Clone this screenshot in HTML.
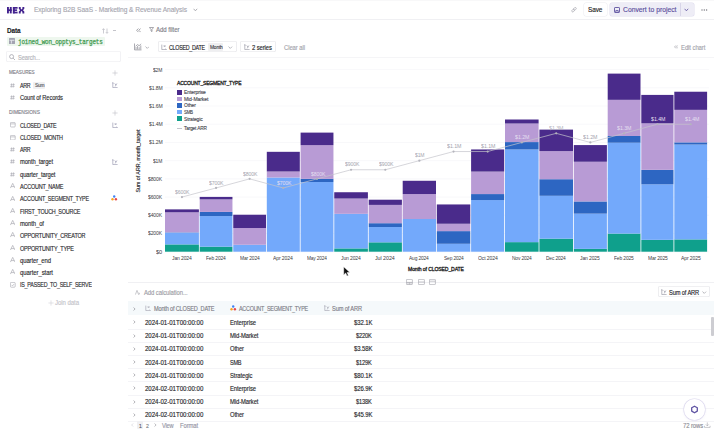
<!DOCTYPE html>
<html><head><meta charset="utf-8"><style>
html,body{margin:0;padding:0;width:714px;height:432px;overflow:hidden;background:#fff;position:relative;font-family:"Liberation Sans",sans-serif}
.t{position:absolute;white-space:nowrap;transform-origin:0 50%;-webkit-text-stroke:0.13px currentColor}
</style></head><body>
<div style="position:absolute;left:0px;top:0px;width:714px;height:1px;background:#f8f8f9"></div>
<div style="position:absolute;left:0px;top:19.2px;width:714px;height:0.8000000000000007px;background:#f0f0f3"></div>
<svg style="position:absolute;left:7px;top:6.5px;" width="18" height="7" viewBox="0 0 18 7"><g fill="#42228e"><rect x="0" y="0" width="1.9" height="6.4"/><rect x="2.8" y="0" width="1.9" height="6.4"/><rect x="0" y="2.3" width="4.7" height="1.7"/><rect x="5.9" y="0" width="1.9" height="6.4"/><rect x="5.9" y="0" width="4.7" height="1.7"/><rect x="5.9" y="2.35" width="4.2" height="1.6"/><rect x="5.9" y="4.7" width="4.7" height="1.7"/><path d="M11.8 0h1.9v1.4l0.8 1h0.1l0.8-1V0h1.9v1.8l-1.3 1.4 1.3 1.4v1.8h-1.9V5l-0.8-1h-0.1l-0.8 1v1.4h-1.9V4.6l1.3-1.4-1.3-1.4z"/></g></svg>
<svg style="position:absolute;left:192.5px;top:8px;" width="5" height="4" viewBox="0 0 5 4"><path d="M0.6 0.8L2.4 2.8 4.2 0.8" fill="none" stroke="#9a9aa2" stroke-width="0.8"/></svg>
<svg style="position:absolute;left:570.5px;top:7.2px;" width="6" height="6" viewBox="0 0 6 6"><g fill="none" stroke="#b0b0b8" stroke-width="0.8"><rect x="0.6" y="2.6" width="3" height="2" rx="1" transform="rotate(-45 2.1 3.6)"/><rect x="2.4" y="0.8" width="3" height="2" rx="1" transform="rotate(-45 3.9 1.8)"/></g></svg>
<div style="position:absolute;left:584.1px;top:3.3px;width:22.699999999999932px;height:12.899999999999999px;background:#fff;border-radius:2px;box-shadow:0 0 0 0.5px #ececf0"></div>
<div style="position:absolute;left:610.3px;top:3.3px;width:83.90000000000009px;height:12.899999999999999px;background:#eeedf6;border-radius:2px;box-shadow:0 0 0 0.5px #e0deee"></div>
<div style="position:absolute;left:680.1px;top:3.3px;width:0.5px;height:12.899999999999999px;background:#d8d5e8"></div>
<svg style="position:absolute;left:613.8px;top:7.2px;" width="6.5" height="6.5" viewBox="0 0 6.5 6.5"><g fill="none" stroke="#5f52a0" stroke-width="0.9"><rect x="0.5" y="0.5" width="5" height="5" rx="0.6"/><path d="M1.8 5.5V3.6h2.4v1.9"/></g></svg>
<svg style="position:absolute;left:684.3px;top:8.2px;" width="5" height="4" viewBox="0 0 5 4"><path d="M0.6 0.8L2.4 2.8 4.2 0.8" fill="none" stroke="#5c4f9e" stroke-width="0.8"/></svg>
<svg style="position:absolute;left:701.2px;top:9px;" width="7" height="2" viewBox="0 0 7 2"><g fill="#77777f"><circle cx="1" cy="1" r="0.7"/><circle cx="3.3" cy="1" r="0.7"/><circle cx="5.6" cy="1" r="0.7"/></g></svg>
<svg style="position:absolute;left:101.5px;top:27.5px;" width="7" height="6" viewBox="0 0 7 6"><g fill="none" stroke="#b8b8c0" stroke-width="0.7"><path d="M1.5 5.5V0.7M0.3 1.9l1.2-1.2 1.2 1.2M5 0.5v4.8M3.8 4.1l1.2 1.2 1.2-1.2"/></g></svg>
<div style="position:absolute;left:112.8px;top:30.4px;width:3.0px;height:0.5px;background:#c4c4ca"></div>
<div style="position:absolute;left:7.1px;top:36.8px;width:98.2px;height:9.0px;background:#eef7ee;border-radius:1px"></div>
<svg style="position:absolute;left:9px;top:38.3px;" width="6" height="6.2" viewBox="0 0 6 6.2"><rect x="0" y="0" width="6" height="6.2" rx="0.6" fill="#a4a4b2"/><path d="M0.6 2.3h4.8M2.4 2.3v3.3" stroke="#eef0f4" stroke-width="0.8"/></svg>
<div style="position:absolute;left:6.4px;top:51.3px;width:114.19999999999999px;height:11.0px;background:#fff;border-radius:2px;box-shadow:inset 0 0 0 0.6px #eaeaee"></div>
<svg style="position:absolute;left:9px;top:53.8px;" width="6.5" height="6.5" viewBox="0 0 6.5 6.5"><g fill="none" stroke="#9a9aa2" stroke-width="0.7"><circle cx="2.6" cy="2.6" r="2"/><path d="M4.1 4.1l1.9 1.9"/></g></svg>
<svg style="position:absolute;left:111.6px;top:69.5px;" width="6" height="6" viewBox="0 0 6 6"><path d="M3 0.4v5.2M0.4 3h5.2" stroke="#c0c0c6" stroke-width="0.6"/></svg>
<svg style="position:absolute;left:10px;top:82.7px;" width="5" height="5" viewBox="0 0 5 5"><path d="M1.7 0.3l-0.5 4.4M3.6 0.3l-0.5 4.4M0.4 1.6h4.4M0.2 3.4h4.4" fill="none" stroke="#a4a4ac" stroke-width="0.55"/></svg>
<div style="position:absolute;left:32.9px;top:82px;width:12.399999999999999px;height:6.5px;background:#f0f0f2;border-radius:1px"></div>
<svg style="position:absolute;left:111.8px;top:81.8px;" width="6" height="6.2" viewBox="0 0 6 6.2"><g fill="none" stroke="#8c8ca6" stroke-width="0.6"><path d="M0.8 0.6v5h4.8"/><path d="M0 1.5l0.8-0.9 0.8 0.9"/><path d="M2.8 1.5l1.2 1.6M4.9 1.5L3.2 4.4"/></g></svg>
<svg style="position:absolute;left:10px;top:94.9px;" width="5" height="5" viewBox="0 0 5 5"><path d="M1.7 0.3l-0.5 4.4M3.6 0.3l-0.5 4.4M0.4 1.6h4.4M0.2 3.4h4.4" fill="none" stroke="#a4a4ac" stroke-width="0.55"/></svg>
<svg style="position:absolute;left:111.6px;top:109.5px;" width="6" height="6" viewBox="0 0 6 6"><path d="M3 0.4v5.2M0.4 3h5.2" stroke="#c0c0c6" stroke-width="0.6"/></svg>
<svg style="position:absolute;left:10px;top:122.30000000000001px;" width="5.6" height="5.4" viewBox="0 0 5.6 5.4"><g fill="none" stroke="#a4a4ac" stroke-width="0.6"><rect x="0.4" y="0.4" width="4.8" height="4.6" rx="0.8"/><path d="M0.4 1.9h4.8"/></g></svg>
<svg style="position:absolute;left:10px;top:134.60000000000002px;" width="5.6" height="5.4" viewBox="0 0 5.6 5.4"><g fill="none" stroke="#a4a4ac" stroke-width="0.6"><rect x="0.4" y="0.4" width="4.8" height="4.6" rx="0.8"/><path d="M0.4 1.9h4.8"/></g></svg>
<svg style="position:absolute;left:10px;top:147.0px;" width="5" height="5" viewBox="0 0 5 5"><path d="M1.7 0.3l-0.5 4.4M3.6 0.3l-0.5 4.4M0.4 1.6h4.4M0.2 3.4h4.4" fill="none" stroke="#a4a4ac" stroke-width="0.55"/></svg>
<svg style="position:absolute;left:10px;top:159.3px;" width="5" height="5" viewBox="0 0 5 5"><path d="M1.7 0.3l-0.5 4.4M3.6 0.3l-0.5 4.4M0.4 1.6h4.4M0.2 3.4h4.4" fill="none" stroke="#a4a4ac" stroke-width="0.55"/></svg>
<svg style="position:absolute;left:10px;top:171.60000000000002px;" width="5" height="5" viewBox="0 0 5 5"><path d="M1.7 0.3l-0.5 4.4M3.6 0.3l-0.5 4.4M0.4 1.6h4.4M0.2 3.4h4.4" fill="none" stroke="#a4a4ac" stroke-width="0.55"/></svg>
<svg style="position:absolute;left:10px;top:183.20000000000002px;" width="5.4" height="5.6" viewBox="0 0 5.4 5.6"><path d="M0.4 5.1L2.7 0.4 5 5.1M1.2 3.6h3" fill="none" stroke="#9c9ca6" stroke-width="0.6"/></svg>
<svg style="position:absolute;left:10px;top:195.50000000000003px;" width="5.4" height="5.6" viewBox="0 0 5.4 5.6"><path d="M0.4 5.1L2.7 0.4 5 5.1M1.2 3.6h3" fill="none" stroke="#9c9ca6" stroke-width="0.6"/></svg>
<svg style="position:absolute;left:10px;top:207.8px;" width="5.4" height="5.6" viewBox="0 0 5.4 5.6"><path d="M0.4 5.1L2.7 0.4 5 5.1M1.2 3.6h3" fill="none" stroke="#9c9ca6" stroke-width="0.6"/></svg>
<svg style="position:absolute;left:10px;top:220.10000000000002px;" width="5.4" height="5.6" viewBox="0 0 5.4 5.6"><path d="M0.4 5.1L2.7 0.4 5 5.1M1.2 3.6h3" fill="none" stroke="#9c9ca6" stroke-width="0.6"/></svg>
<svg style="position:absolute;left:10px;top:232.40000000000003px;" width="5.4" height="5.6" viewBox="0 0 5.4 5.6"><path d="M0.4 5.1L2.7 0.4 5 5.1M1.2 3.6h3" fill="none" stroke="#9c9ca6" stroke-width="0.6"/></svg>
<svg style="position:absolute;left:10px;top:244.70000000000002px;" width="5.4" height="5.6" viewBox="0 0 5.4 5.6"><path d="M0.4 5.1L2.7 0.4 5 5.1M1.2 3.6h3" fill="none" stroke="#9c9ca6" stroke-width="0.6"/></svg>
<svg style="position:absolute;left:10px;top:257.00000000000006px;" width="5.4" height="5.6" viewBox="0 0 5.4 5.6"><path d="M0.4 5.1L2.7 0.4 5 5.1M1.2 3.6h3" fill="none" stroke="#9c9ca6" stroke-width="0.6"/></svg>
<svg style="position:absolute;left:10px;top:269.3px;" width="5.4" height="5.6" viewBox="0 0 5.4 5.6"><path d="M0.4 5.1L2.7 0.4 5 5.1M1.2 3.6h3" fill="none" stroke="#9c9ca6" stroke-width="0.6"/></svg>
<svg style="position:absolute;left:10px;top:282.1px;" width="5.6" height="5.6" viewBox="0 0 5.6 5.6"><g fill="none" stroke="#a4a4ac" stroke-width="0.6"><rect x="0.4" y="0.4" width="4.8" height="4.8" rx="0.8"/><path d="M1.5 2.9l1 1 1.8-2"/></g></svg>
<svg style="position:absolute;left:111.8px;top:121.6px;" width="6" height="6.2" viewBox="0 0 6 6.2"><g fill="none" stroke="#8c8ca6" stroke-width="0.6"><path d="M0.8 0.6v5h4.8"/><path d="M2.8 1.2l1.6 1.8M4.4 1.2L2.8 3"/><path d="M4.5 4.8l0.9 0.8"/></g></svg>
<svg style="position:absolute;left:111.8px;top:158.6px;" width="6" height="6.2" viewBox="0 0 6 6.2"><g fill="none" stroke="#8c8ca6" stroke-width="0.6"><path d="M0.8 0.6v5h4.8"/><path d="M0 1.5l0.8-0.9 0.8 0.9"/><path d="M2.8 1.5l1.2 1.6M4.9 1.5L3.2 4.4"/></g></svg>
<svg style="position:absolute;left:111px;top:194.6px;" width="6.5" height="6" viewBox="0 0 6.5 6"><circle cx="3.2" cy="1.5" r="1.2" fill="#3b82f6"/><circle cx="1.5" cy="4.3" r="1.2" fill="#f5a524"/><circle cx="4.9" cy="4.3" r="1.2" fill="#e5484d"/></svg>
<svg style="position:absolute;left:47.8px;top:299.7px;" width="6" height="6" viewBox="0 0 6 6"><path d="M3 0.4v5.2M0.4 3h5.2" stroke="#d0d0d6" stroke-width="0.6"/></svg>
<svg style="position:absolute;left:135.9px;top:27.5px;" width="5" height="5" viewBox="0 0 5 5"><path d="M2.4 0.5L0.6 2.3 2.4 4.1M4.6 0.5L2.8 2.3 4.6 4.1" fill="none" stroke="#85858e" stroke-width="0.75"/></svg>
<svg style="position:absolute;left:149.2px;top:27.4px;" width="5" height="5" viewBox="0 0 5 5"><path d="M0.4 0.5h4.2L3 2.4v2.2L2 4V2.4z" fill="none" stroke="#85858e" stroke-width="0.7"/></svg>
<svg style="position:absolute;left:134.4px;top:43.4px;" width="8" height="7.4" viewBox="0 0 8 7.4"><g fill="none" stroke="#8e8e98" stroke-width="0.75"><path d="M0.5 0.5v6.4h7"/><path d="M2 6.4V4M3.6 6.4V3M5.2 6.4V4.2M6.8 6.4V2.4"/><path d="M1.6 3.2l2-1.6 1.6 1.2 1.8-2"/></g></svg>
<svg style="position:absolute;left:144.9px;top:45.7px;" width="4.6" height="3" viewBox="0 0 4.6 3"><path d="M0.5 0.6l1.8 1.8 1.8-1.8" fill="none" stroke="#8a8a92" stroke-width="0.6"/></svg>
<div style="position:absolute;left:157.6px;top:41.3px;width:79.30000000000001px;height:11.200000000000003px;background:#fff;border-radius:2px;box-shadow:inset 0 0 0 0.6px #e2e2e6"></div>
<svg style="position:absolute;left:160.8px;top:43.9px;" width="6" height="6.2" viewBox="0 0 6 6.2"><g fill="none" stroke="#8a8a98" stroke-width="0.6"><path d="M0.8 0.6v5h4.8"/><path d="M2.8 1.2l1.6 1.8M4.4 1.2L2.8 3"/><path d="M4.5 4.8l0.9 0.8"/></g></svg>
<div style="position:absolute;left:208.4px;top:43.4px;width:15.099999999999994px;height:7.600000000000001px;background:#efeff1;border-radius:1px"></div>
<svg style="position:absolute;left:228.2px;top:45.7px;" width="4.6" height="3" viewBox="0 0 4.6 3"><path d="M0.5 0.6l1.8 1.8 1.8-1.8" fill="none" stroke="#8a8a92" stroke-width="0.6"/></svg>
<div style="position:absolute;left:240.3px;top:41.3px;width:36.19999999999999px;height:11.200000000000003px;background:#fff;border-radius:2px;box-shadow:inset 0 0 0 0.6px #e2e2e6"></div>
<svg style="position:absolute;left:244px;top:43.9px;" width="6" height="6.2" viewBox="0 0 6 6.2"><g fill="none" stroke="#8a8a98" stroke-width="0.6"><path d="M0.8 0.6v5h4.8"/><path d="M0 1.5l0.8-0.9 0.8 0.9"/><path d="M2.8 1.5l1.2 1.6M4.9 1.5L3.2 4.4"/></g></svg>
<svg style="position:absolute;left:673.8px;top:45.2px;" width="4.5" height="4" viewBox="0 0 4.5 4"><path d="M2 0.4L0.5 1.9 2 3.4M3.9 0.4L2.4 1.9 3.9 3.4" fill="none" stroke="#9c9ca4" stroke-width="0.65"/></svg>
<div style="position:absolute;left:128px;top:56.8px;width:586px;height:0.5px;background:#f5f5f7"></div>
<svg style="position:absolute;left:0px;top:0px;" width="714" height="432" viewBox="0 0 714 432"><line x1="165" y1="251.70" x2="709" y2="251.70" stroke="#f3f3f6" stroke-width="0.6"/><line x1="165" y1="233.49" x2="709" y2="233.49" stroke="#f3f3f6" stroke-width="0.6"/><line x1="165" y1="215.28" x2="709" y2="215.28" stroke="#f3f3f6" stroke-width="0.6"/><line x1="165" y1="197.07" x2="709" y2="197.07" stroke="#f3f3f6" stroke-width="0.6"/><line x1="165" y1="178.86" x2="709" y2="178.86" stroke="#f3f3f6" stroke-width="0.6"/><line x1="165" y1="160.65" x2="709" y2="160.65" stroke="#f3f3f6" stroke-width="0.6"/><line x1="165" y1="142.44" x2="709" y2="142.44" stroke="#f3f3f6" stroke-width="0.6"/><line x1="165" y1="124.23" x2="709" y2="124.23" stroke="#f3f3f6" stroke-width="0.6"/><line x1="165" y1="106.02" x2="709" y2="106.02" stroke="#f3f3f6" stroke-width="0.6"/><line x1="165" y1="87.81" x2="709" y2="87.81" stroke="#f3f3f6" stroke-width="0.6"/><line x1="165" y1="69.60" x2="709" y2="69.60" stroke="#f3f3f6" stroke-width="0.6"/><rect x="165.00" y="244.41" width="33.90" height="7.29" fill="#0fa08c"/><rect x="165.00" y="232.66" width="33.90" height="11.75" fill="#73a9fb"/><rect x="165.00" y="232.34" width="33.90" height="0.33" fill="#2d66c2"/><rect x="165.00" y="212.30" width="33.90" height="20.03" fill="#b89bd5"/><rect x="165.00" y="209.38" width="33.90" height="2.92" fill="#4a2b8b"/><rect x="199.70" y="246.69" width="32.75" height="5.01" fill="#0fa08c"/><rect x="199.70" y="216.10" width="32.75" height="30.59" fill="#73a9fb"/><rect x="199.70" y="211.92" width="32.75" height="4.18" fill="#2d66c2"/><rect x="199.70" y="199.36" width="32.75" height="12.56" fill="#b89bd5"/><rect x="199.70" y="196.91" width="32.75" height="2.45" fill="#4a2b8b"/><rect x="233.25" y="244.78" width="32.75" height="6.92" fill="#73a9fb"/><rect x="233.25" y="228.03" width="32.75" height="16.75" fill="#b89bd5"/><rect x="233.25" y="214.73" width="32.75" height="13.29" fill="#4a2b8b"/><rect x="266.80" y="177.49" width="33.00" height="74.21" fill="#73a9fb"/><rect x="266.80" y="171.48" width="33.00" height="6.01" fill="#b89bd5"/><rect x="266.80" y="151.82" width="33.00" height="19.67" fill="#4a2b8b"/><rect x="300.60" y="182.05" width="32.85" height="69.65" fill="#73a9fb"/><rect x="300.60" y="178.86" width="32.85" height="3.19" fill="#2d66c2"/><rect x="300.60" y="145.17" width="32.85" height="33.69" fill="#b89bd5"/><rect x="300.60" y="132.61" width="32.85" height="12.56" fill="#4a2b8b"/><rect x="334.25" y="248.42" width="33.65" height="3.28" fill="#0fa08c"/><rect x="334.25" y="213.82" width="33.65" height="34.60" fill="#73a9fb"/><rect x="334.25" y="198.53" width="33.65" height="15.30" fill="#b89bd5"/><rect x="334.25" y="192.24" width="33.65" height="6.28" fill="#4a2b8b"/><rect x="368.70" y="242.32" width="33.20" height="9.38" fill="#0fa08c"/><rect x="368.70" y="227.03" width="33.20" height="15.30" fill="#73a9fb"/><rect x="368.70" y="223.20" width="33.20" height="3.82" fill="#2d66c2"/><rect x="368.70" y="204.90" width="33.20" height="18.30" fill="#b89bd5"/><rect x="368.70" y="199.71" width="33.20" height="5.19" fill="#4a2b8b"/><rect x="402.70" y="219.01" width="33.30" height="32.69" fill="#73a9fb"/><rect x="402.70" y="194.07" width="33.30" height="24.95" fill="#b89bd5"/><rect x="402.70" y="180.77" width="33.30" height="13.29" fill="#4a2b8b"/><rect x="436.80" y="243.78" width="33.50" height="7.92" fill="#73a9fb"/><rect x="436.80" y="231.12" width="33.50" height="12.66" fill="#2d66c2"/><rect x="436.80" y="223.75" width="33.50" height="7.38" fill="#b89bd5"/><rect x="436.80" y="204.45" width="33.50" height="19.30" fill="#4a2b8b"/><rect x="471.10" y="200.07" width="33.10" height="51.63" fill="#73a9fb"/><rect x="471.10" y="194.07" width="33.10" height="6.01" fill="#2d66c2"/><rect x="471.10" y="171.58" width="33.10" height="22.49" fill="#b89bd5"/><rect x="471.10" y="149.45" width="33.10" height="22.13" fill="#4a2b8b"/><rect x="505.00" y="242.14" width="33.60" height="9.56" fill="#0fa08c"/><rect x="505.00" y="149.45" width="33.60" height="92.69" fill="#73a9fb"/><rect x="505.00" y="142.08" width="33.60" height="7.38" fill="#2d66c2"/><rect x="505.00" y="123.50" width="33.60" height="18.57" fill="#b89bd5"/><rect x="505.00" y="119.50" width="33.60" height="4.01" fill="#4a2b8b"/><rect x="539.40" y="238.68" width="33.60" height="13.02" fill="#0fa08c"/><rect x="539.40" y="195.80" width="33.60" height="42.88" fill="#73a9fb"/><rect x="539.40" y="179.22" width="33.60" height="16.57" fill="#2d66c2"/><rect x="539.40" y="151.09" width="33.60" height="28.13" fill="#b89bd5"/><rect x="539.40" y="129.60" width="33.60" height="21.49" fill="#4a2b8b"/><rect x="573.80" y="248.88" width="33.10" height="2.82" fill="#0fa08c"/><rect x="573.80" y="213.64" width="33.10" height="35.24" fill="#73a9fb"/><rect x="573.80" y="201.44" width="33.10" height="12.20" fill="#2d66c2"/><rect x="573.80" y="161.74" width="33.10" height="39.70" fill="#b89bd5"/><rect x="573.80" y="145.08" width="33.10" height="16.66" fill="#4a2b8b"/><rect x="607.70" y="233.58" width="32.80" height="18.12" fill="#0fa08c"/><rect x="607.70" y="142.71" width="32.80" height="90.87" fill="#73a9fb"/><rect x="607.70" y="135.98" width="32.80" height="6.74" fill="#2d66c2"/><rect x="607.70" y="99.83" width="32.80" height="36.15" fill="#b89bd5"/><rect x="607.70" y="73.61" width="32.80" height="26.22" fill="#4a2b8b"/><rect x="641.30" y="239.86" width="32.20" height="11.84" fill="#0fa08c"/><rect x="641.30" y="184.32" width="32.20" height="55.54" fill="#73a9fb"/><rect x="641.30" y="169.85" width="32.20" height="14.48" fill="#2d66c2"/><rect x="641.30" y="123.32" width="32.20" height="46.53" fill="#b89bd5"/><rect x="641.30" y="94.91" width="32.20" height="28.41" fill="#4a2b8b"/><rect x="674.30" y="239.41" width="32.80" height="12.29" fill="#0fa08c"/><rect x="674.30" y="144.53" width="32.80" height="94.87" fill="#73a9fb"/><rect x="674.30" y="142.35" width="32.80" height="2.19" fill="#2d66c2"/><rect x="674.30" y="109.84" width="32.80" height="32.50" fill="#b89bd5"/><rect x="674.30" y="91.73" width="32.80" height="18.12" fill="#4a2b8b"/><polyline points="181.95,197.07 216.07,187.96 249.62,178.86 283.30,187.96 317.02,178.86 351.08,169.75 385.30,169.75 419.35,160.65 453.55,151.54 487.65,151.54 521.80,142.44 556.20,133.33 590.35,142.44 624.10,133.33 657.40,124.23 690.70,124.23" fill="none" stroke="#c4c4cc" stroke-width="0.7"/><circle cx="181.95" cy="197.07" r="1.1" fill="#b4b4bc"/><circle cx="216.07" cy="187.96" r="1.1" fill="#b4b4bc"/><circle cx="249.62" cy="178.86" r="1.1" fill="#b4b4bc"/><circle cx="283.30" cy="187.96" r="1.1" fill="#b4b4bc"/><circle cx="317.02" cy="178.86" r="1.1" fill="#b4b4bc"/><circle cx="351.08" cy="169.75" r="1.1" fill="#b4b4bc"/><circle cx="385.30" cy="169.75" r="1.1" fill="#b4b4bc"/><circle cx="419.35" cy="160.65" r="1.1" fill="#b4b4bc"/><circle cx="453.55" cy="151.54" r="1.1" fill="#b4b4bc"/><circle cx="487.65" cy="151.54" r="1.1" fill="#b4b4bc"/><circle cx="521.80" cy="142.44" r="1.1" fill="#b4b4bc"/><circle cx="556.20" cy="133.33" r="1.1" fill="#b4b4bc"/><circle cx="590.35" cy="142.44" r="1.1" fill="#b4b4bc"/><circle cx="624.10" cy="133.33" r="1.1" fill="#b4b4bc"/><circle cx="657.40" cy="124.23" r="1.1" fill="#b4b4bc"/><circle cx="690.70" cy="124.23" r="1.1" fill="#b4b4bc"/></svg>
<div style="position:absolute;left:106.3px;top:157.7px;width:63px;height:6px;transform:rotate(-90deg);transform-origin:center"><div style="font:400 5.45px/6px 'Liberation Sans',sans-serif;color:#26262c;-webkit-text-stroke:0.15px currentColor;white-space:nowrap;transform-origin:0 50%;transform:scaleX(0.9695)">Sum of ARR, month_target</div></div>
<div style="position:absolute;left:177.2px;top:90.10000000000001px;width:5.0px;height:4.5px;background:#4a2b8b"></div>
<div style="position:absolute;left:177.2px;top:96.60000000000001px;width:5.0px;height:4.5px;background:#b89bd5"></div>
<div style="position:absolute;left:177.2px;top:103.0px;width:5.0px;height:4.5px;background:#2d66c2"></div>
<div style="position:absolute;left:177.2px;top:109.5px;width:5.0px;height:4.5px;background:#73a9fb"></div>
<div style="position:absolute;left:177.2px;top:116.45px;width:5.0px;height:4.5px;background:#0fa08c"></div>
<div style="position:absolute;left:177.2px;top:127.8px;width:5.300000000000011px;height:0.5000000000000142px;background:#c4c4cc"></div>
<div style="position:absolute;left:128px;top:282.3px;width:586px;height:0.5px;background:#f0f0f3"></div>
<svg style="position:absolute;left:405.8px;top:279.3px;" width="7" height="6" viewBox="0 0 7 6"><g fill="none" stroke="#a0a0a8" stroke-width="0.6"><rect x="0.4" y="0.4" width="6" height="5.2" rx="0.6"/><path d="M0.4 3.4h6"/><path d="M2 3.4v2.2M3.5 3.4v2.2M5 3.4v2.2"/></g></svg>
<svg style="position:absolute;left:417.6px;top:279.3px;" width="7" height="6" viewBox="0 0 7 6"><g fill="none" stroke="#a0a0a8" stroke-width="0.6"><rect x="0.4" y="0.4" width="6" height="5.2" rx="0.6"/><path d="M0.4 3h6"/></g></svg>
<svg style="position:absolute;left:428.8px;top:279.3px;" width="7" height="6" viewBox="0 0 7 6"><g fill="none" stroke="#a0a0a8" stroke-width="0.6"><rect x="0.4" y="0.4" width="6" height="5.2" rx="0.6"/><path d="M0.4 2.2h6"/></g></svg>
<svg style="position:absolute;left:134.8px;top:290px;" width="5" height="5" viewBox="0 0 5 5"><path d="M0.4 4.6l1.6-4.2 1.6 4.2M3.6 3l1.2 1.2M4.8 3L3.6 4.2" fill="none" stroke="#9c9ca4" stroke-width="0.55"/></svg>
<div style="position:absolute;left:658.3px;top:286.4px;width:51.90000000000009px;height:11.0px;background:#fff;border-radius:2px;box-shadow:inset 0 0 0 0.6px #e2e2e6"></div>
<svg style="position:absolute;left:661px;top:288.8px;" width="6" height="6.2" viewBox="0 0 6 6.2"><g fill="none" stroke="#8a8a98" stroke-width="0.6"><path d="M0.8 0.6v5h4.8"/><path d="M0 1.5l0.8-0.9 0.8 0.9"/><path d="M2.8 1.5l1.2 1.6M4.9 1.5L3.2 4.4"/></g></svg>
<svg style="position:absolute;left:702.2px;top:290.7px;" width="4.6" height="3" viewBox="0 0 4.6 3"><path d="M0.5 0.6l1.8 1.8 1.8-1.8" fill="none" stroke="#8a8a92" stroke-width="0.6"/></svg>
<div style="position:absolute;left:128px;top:301.4px;width:586px;height:13.800000000000011px;background:#f5f9fb"></div>
<svg style="position:absolute;left:133.0px;top:306.5px;" width="3" height="4" viewBox="0 0 3 4"><path d="M0.6 0.5l1.5 1.5-1.5 1.5" fill="none" stroke="#7c7c84" stroke-width="0.6"/></svg>
<svg style="position:absolute;left:145px;top:305.2px;" width="6" height="6.2" viewBox="0 0 6 6.2"><g fill="none" stroke="#9a9aa8" stroke-width="0.6"><path d="M0.8 0.6v5h4.8"/><path d="M2.8 1.2l1.6 1.8M4.4 1.2L2.8 3"/><path d="M4.5 4.8l0.9 0.8"/></g></svg>
<svg style="position:absolute;left:230.3px;top:305.4px;" width="6.5" height="6" viewBox="0 0 6.5 6"><circle cx="3.2" cy="1.5" r="1.2" fill="#3b82f6"/><circle cx="1.5" cy="4.3" r="1.2" fill="#f5a524"/><circle cx="4.9" cy="4.3" r="1.2" fill="#e5484d"/></svg>
<svg style="position:absolute;left:324px;top:305.2px;" width="6" height="6.2" viewBox="0 0 6 6.2"><g fill="none" stroke="#9a9aa8" stroke-width="0.6"><path d="M0.8 0.6v5h4.8"/><path d="M0 1.5l0.8-0.9 0.8 0.9"/><path d="M2.8 1.5l1.2 1.6M4.9 1.5L3.2 4.4"/></g></svg>
<div style="position:absolute;left:128px;top:328.6px;width:586px;height:0.5999999999999659px;background:#f4f4f7"></div>
<svg style="position:absolute;left:133.0px;top:320.3px;" width="3" height="4" viewBox="0 0 3 4"><path d="M0.6 0.5l1.5 1.5-1.5 1.5" fill="none" stroke="#7c7c84" stroke-width="0.6"/></svg>
<div style="position:absolute;left:128px;top:341.8px;width:586px;height:0.5999999999999659px;background:#f4f4f7"></div>
<svg style="position:absolute;left:133.0px;top:333.5px;" width="3" height="4" viewBox="0 0 3 4"><path d="M0.6 0.5l1.5 1.5-1.5 1.5" fill="none" stroke="#7c7c84" stroke-width="0.6"/></svg>
<div style="position:absolute;left:128px;top:355.0px;width:586px;height:0.5999999999999659px;background:#f4f4f7"></div>
<svg style="position:absolute;left:133.0px;top:346.7px;" width="3" height="4" viewBox="0 0 3 4"><path d="M0.6 0.5l1.5 1.5-1.5 1.5" fill="none" stroke="#7c7c84" stroke-width="0.6"/></svg>
<div style="position:absolute;left:128px;top:368.2px;width:586px;height:0.5999999999999659px;background:#f4f4f7"></div>
<svg style="position:absolute;left:133.0px;top:359.9px;" width="3" height="4" viewBox="0 0 3 4"><path d="M0.6 0.5l1.5 1.5-1.5 1.5" fill="none" stroke="#7c7c84" stroke-width="0.6"/></svg>
<div style="position:absolute;left:128px;top:381.40000000000003px;width:586px;height:0.5999999999999659px;background:#f4f4f7"></div>
<svg style="position:absolute;left:133.0px;top:373.1px;" width="3" height="4" viewBox="0 0 3 4"><path d="M0.6 0.5l1.5 1.5-1.5 1.5" fill="none" stroke="#7c7c84" stroke-width="0.6"/></svg>
<div style="position:absolute;left:128px;top:394.6px;width:586px;height:0.5999999999999659px;background:#f4f4f7"></div>
<svg style="position:absolute;left:133.0px;top:386.3px;" width="3" height="4" viewBox="0 0 3 4"><path d="M0.6 0.5l1.5 1.5-1.5 1.5" fill="none" stroke="#7c7c84" stroke-width="0.6"/></svg>
<div style="position:absolute;left:128px;top:407.8px;width:586px;height:0.5999999999999659px;background:#f4f4f7"></div>
<svg style="position:absolute;left:133.0px;top:399.5px;" width="3" height="4" viewBox="0 0 3 4"><path d="M0.6 0.5l1.5 1.5-1.5 1.5" fill="none" stroke="#7c7c84" stroke-width="0.6"/></svg>
<div style="position:absolute;left:128px;top:421.0px;width:586px;height:0.5999999999999659px;background:#f4f4f7"></div>
<svg style="position:absolute;left:133.0px;top:412.7px;" width="3" height="4" viewBox="0 0 3 4"><path d="M0.6 0.5l1.5 1.5-1.5 1.5" fill="none" stroke="#7c7c84" stroke-width="0.6"/></svg>
<div style="position:absolute;left:711.3px;top:316.8px;width:2.7000000000000455px;height:19.19999999999999px;background:#cdcdd2;border-radius:1px"></div>
<svg style="position:absolute;left:131.3px;top:423.1px;" width="3" height="4" viewBox="0 0 3 4"><path d="M2.1 0.5L0.6 2l1.5 1.5" fill="none" stroke="#c8c8d0" stroke-width="0.6"/></svg>
<div style="position:absolute;left:136.9px;top:421px;width:5.900000000000006px;height:8.199999999999989px;background:#efeff2;border-radius:1px"></div>
<svg style="position:absolute;left:153.6px;top:423.1px;" width="3" height="4" viewBox="0 0 3 4"><path d="M0.6 0.5l1.5 1.5-1.5 1.5" fill="none" stroke="#8c8c94" stroke-width="0.6"/></svg>
<div style="position:absolute;left:684.3px;top:399.3px;width:20.4px;height:20.4px;border-radius:50%;background:#fff;box-shadow:0 0 0 0.6px #dcd8ee, 0 1px 3px rgba(80,60,160,0.08)"></div>
<svg style="position:absolute;left:690px;top:405px;" width="9" height="9" viewBox="0 0 9 9"><path d="M4.5 1.2l2.8 1.6v3.3L4.5 7.8 1.7 6.1V2.8z" fill="none" stroke="#5e52a2" stroke-width="1.3" stroke-linejoin="round"/></svg>
<svg style="position:absolute;left:704px;top:422px;" width="7" height="6" viewBox="0 0 7 6"><path d="M3.3 0.4v3.4M1.8 2.4l1.5 1.5 1.5-1.5M0.5 3.8v1.6h5.6V3.8" fill="none" stroke="#9c9ca4" stroke-width="0.55"/></svg>
<svg style="position:absolute;left:343px;top:266px;" width="8" height="11" viewBox="0 0 8 11"><path d="M0.7 0.7v8.2l2-1.9 1.3 3 1.4-0.6-1.3-2.9h2.8z" fill="#111" stroke="#fff" stroke-width="0.5"/></svg>
<div class="t" style="left:33.80px;top:7.35px;font-family:'Liberation Sans', sans-serif;font-size:6.83px;line-height:6.83px;font-weight:400;color:#a7a7b0;transform:scaleX(0.9666);letter-spacing:-0.047px;">Exploring B2B SaaS - Marketing &amp; Revenue Analysis</div>
<div class="t" style="left:587.60px;top:7.35px;font-family:'Liberation Sans', sans-serif;font-size:6.83px;line-height:6.83px;font-weight:500;color:#1e1e22;transform:scaleX(0.9458);letter-spacing:-0.118px;">Save</div>
<div class="t" style="left:623.00px;top:7.30px;font-family:'Liberation Sans', sans-serif;font-size:6.93px;line-height:6.93px;font-weight:500;color:#5c4f9e;transform:scaleX(0.9853);letter-spacing:-0.020px;">Convert to project</div>
<div class="t" style="left:6.90px;top:27.85px;font-family:'Liberation Sans', sans-serif;font-size:6.83px;line-height:6.83px;font-weight:700;color:#1a1a1e;transform:scaleX(0.9363);letter-spacing:-0.131px;">Data</div>
<div class="t" style="left:18.20px;top:38.81px;font-family:'Liberation Mono', monospace;font-size:6.71px;line-height:6.71px;font-weight:400;color:#3f9a50;transform:scaleX(0.8840);letter-spacing:-0.198px;-webkit-text-stroke:0.25px currentColor;">joined_won_opptys_targets</div>
<div class="t" style="left:17.80px;top:54.51px;font-family:'Liberation Sans', sans-serif;font-size:6.3px;line-height:6.3px;font-weight:400;color:#b2b2b8;transform:scaleX(0.9135);letter-spacing:-0.113px;">Search...</div>
<div class="t" style="left:9.30px;top:70.73px;font-family:'Liberation Sans', sans-serif;font-size:4.83px;line-height:4.83px;font-weight:400;color:#7e7e88;transform:scaleX(0.9604);letter-spacing:-0.065px;">MEASURES</div>
<div class="t" style="left:19.80px;top:82.81px;font-family:'Liberation Sans', sans-serif;font-size:6.3px;line-height:6.3px;font-weight:400;color:#2a2a2e;transform:scaleX(0.8428);letter-spacing:-0.420px;">ARR</div>
<div class="t" style="left:34.50px;top:83.17px;font-family:'Liberation Sans', sans-serif;font-size:5.78px;line-height:5.78px;font-weight:400;color:#55555c;transform:scaleX(0.8519);letter-spacing:-0.354px;">Sum</div>
<div class="t" style="left:19.80px;top:95.01px;font-family:'Liberation Sans', sans-serif;font-size:6.3px;line-height:6.3px;font-weight:400;color:#2a2a2e;transform:scaleX(0.9108);letter-spacing:-0.120px;">Count of Records</div>
<div class="t" style="left:9.30px;top:110.73px;font-family:'Liberation Sans', sans-serif;font-size:4.83px;line-height:4.83px;font-weight:400;color:#7e7e88;transform:scaleX(1.0100);">DIMENSIONS</div>
<div class="t" style="left:19.80px;top:122.51px;font-family:'Liberation Sans', sans-serif;font-size:6.3px;line-height:6.3px;font-weight:400;color:#2a2a2e;transform:scaleX(0.8513);letter-spacing:-0.274px;">CLOSED_DATE</div>
<div class="t" style="left:19.80px;top:134.81px;font-family:'Liberation Sans', sans-serif;font-size:6.3px;line-height:6.3px;font-weight:400;color:#2a2a2e;transform:scaleX(0.8663);letter-spacing:-0.259px;">CLOSED_MONTH</div>
<div class="t" style="left:19.80px;top:147.11px;font-family:'Liberation Sans', sans-serif;font-size:6.3px;line-height:6.3px;font-weight:400;color:#2a2a2e;transform:scaleX(0.8428);letter-spacing:-0.420px;">ARR</div>
<div class="t" style="left:19.80px;top:159.41px;font-family:'Liberation Sans', sans-serif;font-size:6.3px;line-height:6.3px;font-weight:400;color:#2a2a2e;transform:scaleX(0.9198);letter-spacing:-0.112px;">month_target</div>
<div class="t" style="left:19.80px;top:171.71px;font-family:'Liberation Sans', sans-serif;font-size:6.3px;line-height:6.3px;font-weight:400;color:#2a2a2e;transform:scaleX(0.9258);letter-spacing:-0.094px;">quarter_target</div>
<div class="t" style="left:19.80px;top:184.01px;font-family:'Liberation Sans', sans-serif;font-size:6.3px;line-height:6.3px;font-weight:400;color:#2a2a2e;transform:scaleX(0.8693);letter-spacing:-0.255px;">ACCOUNT_NAME</div>
<div class="t" style="left:19.80px;top:196.31px;font-family:'Liberation Sans', sans-serif;font-size:6.3px;line-height:6.3px;font-weight:400;color:#2a2a2e;transform:scaleX(0.8549);letter-spacing:-0.264px;">ACCOUNT_SEGMENT_TYPE</div>
<div class="t" style="left:19.80px;top:208.61px;font-family:'Liberation Sans', sans-serif;font-size:6.3px;line-height:6.3px;font-weight:400;color:#2a2a2e;transform:scaleX(0.8613);letter-spacing:-0.246px;">FIRST_TOUCH_SOURCE</div>
<div class="t" style="left:19.80px;top:220.91px;font-family:'Liberation Sans', sans-serif;font-size:6.3px;line-height:6.3px;font-weight:400;color:#2a2a2e;transform:scaleX(0.9380);letter-spacing:-0.097px;">month_of</div>
<div class="t" style="left:19.80px;top:233.21px;font-family:'Liberation Sans', sans-serif;font-size:6.3px;line-height:6.3px;font-weight:400;color:#2a2a2e;transform:scaleX(0.8733);letter-spacing:-0.226px;">OPPORTUNITY_CREATOR</div>
<div class="t" style="left:19.80px;top:245.51px;font-family:'Liberation Sans', sans-serif;font-size:6.3px;line-height:6.3px;font-weight:400;color:#2a2a2e;transform:scaleX(0.8720);letter-spacing:-0.227px;">OPPORTUNITY_TYPE</div>
<div class="t" style="left:19.80px;top:257.81px;font-family:'Liberation Sans', sans-serif;font-size:6.3px;line-height:6.3px;font-weight:400;color:#2a2a2e;transform:scaleX(0.9372);letter-spacing:-0.089px;">quarter_end</div>
<div class="t" style="left:19.80px;top:270.11px;font-family:'Liberation Sans', sans-serif;font-size:6.3px;line-height:6.3px;font-weight:400;color:#2a2a2e;transform:scaleX(0.9458);letter-spacing:-0.068px;">quarter_start</div>
<div class="t" style="left:19.80px;top:282.41px;font-family:'Liberation Sans', sans-serif;font-size:6.3px;line-height:6.3px;font-weight:400;color:#2a2a2e;transform:scaleX(0.8465);letter-spacing:-0.254px;">IS_PASSED_TO_SELF_SERVE</div>
<div class="t" style="left:55.00px;top:300.41px;font-family:'Liberation Sans', sans-serif;font-size:6.3px;line-height:6.3px;font-weight:400;color:#c4c4ca;transform:scaleX(0.9564);letter-spacing:-0.059px;">Join data</div>
<div class="t" style="left:156.00px;top:27.41px;font-family:'Liberation Sans', sans-serif;font-size:6.3px;line-height:6.3px;font-weight:400;color:#7e7e88;transform:scaleX(0.9640);letter-spacing:-0.042px;">Add filter</div>
<div class="t" style="left:169.00px;top:44.81px;font-family:'Liberation Sans', sans-serif;font-size:6.3px;line-height:6.3px;font-weight:500;color:#222226;transform:scaleX(0.8408);letter-spacing:-0.292px;">CLOSED_DATE</div>
<div class="t" style="left:209.60px;top:45.12px;font-family:'Liberation Sans', sans-serif;font-size:5.67px;line-height:5.67px;font-weight:400;color:#3e3e46;transform:scaleX(0.8617);letter-spacing:-0.220px;">Month</div>
<div class="t" style="left:252.40px;top:44.81px;font-family:'Liberation Sans', sans-serif;font-size:6.3px;line-height:6.3px;font-weight:500;color:#222226;transform:scaleX(0.9293);letter-spacing:-0.093px;">2 series</div>
<div class="t" style="left:284.00px;top:44.81px;font-family:'Liberation Sans', sans-serif;font-size:6.3px;line-height:6.3px;font-weight:400;color:#a4a4ac;transform:scaleX(0.9343);letter-spacing:-0.079px;">Clear all</div>
<div class="t" style="left:681.20px;top:44.81px;font-family:'Liberation Sans', sans-serif;font-size:6.3px;line-height:6.3px;font-weight:400;color:#a4a4ac;transform:scaleX(0.9404);letter-spacing:-0.074px;">Edit chart</div>
<div class="t" style="left:174.65px;top:189.77px;font-family:'Liberation Sans', sans-serif;font-size:5.51px;line-height:5.51px;font-weight:400;color:#a4a4ae;transform:scaleX(0.9364);letter-spacing:-0.105px;-webkit-text-stroke:0;">$600K</div>
<div class="t" style="left:208.65px;top:180.67px;font-family:'Liberation Sans', sans-serif;font-size:5.51px;line-height:5.51px;font-weight:400;color:#a4a4ae;transform:scaleX(0.9364);letter-spacing:-0.105px;-webkit-text-stroke:0;">$700K</div>
<div class="t" style="left:242.65px;top:171.56px;font-family:'Liberation Sans', sans-serif;font-size:5.51px;line-height:5.51px;font-weight:400;color:#a4a4ae;transform:scaleX(0.9364);letter-spacing:-0.105px;-webkit-text-stroke:0;">$800K</div>
<div class="t" style="left:276.65px;top:180.67px;font-family:'Liberation Sans', sans-serif;font-size:5.51px;line-height:5.51px;font-weight:400;color:#e4def0;transform:scaleX(0.9364);letter-spacing:-0.105px;-webkit-text-stroke:0;">$700K</div>
<div class="t" style="left:310.65px;top:171.56px;font-family:'Liberation Sans', sans-serif;font-size:5.51px;line-height:5.51px;font-weight:400;color:#e4def0;transform:scaleX(0.9364);letter-spacing:-0.105px;-webkit-text-stroke:0;">$800K</div>
<div class="t" style="left:344.65px;top:162.46px;font-family:'Liberation Sans', sans-serif;font-size:5.51px;line-height:5.51px;font-weight:400;color:#a4a4ae;transform:scaleX(0.9364);letter-spacing:-0.105px;-webkit-text-stroke:0;">$900K</div>
<div class="t" style="left:378.65px;top:162.46px;font-family:'Liberation Sans', sans-serif;font-size:5.51px;line-height:5.51px;font-weight:400;color:#a4a4ae;transform:scaleX(0.9364);letter-spacing:-0.105px;-webkit-text-stroke:0;">$900K</div>
<div class="t" style="left:415.15px;top:153.35px;font-family:'Liberation Sans', sans-serif;font-size:5.51px;line-height:5.51px;font-weight:400;color:#a4a4ae;transform:scaleX(0.9186);letter-spacing:-0.180px;-webkit-text-stroke:0;">$1M</div>
<div class="t" style="left:446.65px;top:144.25px;font-family:'Liberation Sans', sans-serif;font-size:5.51px;line-height:5.51px;font-weight:400;color:#a4a4ae;transform:scaleX(0.9630);letter-spacing:-0.060px;-webkit-text-stroke:0;">$1.1M</div>
<div class="t" style="left:480.65px;top:144.25px;font-family:'Liberation Sans', sans-serif;font-size:5.51px;line-height:5.51px;font-weight:400;color:#a4a4ae;transform:scaleX(0.9630);letter-spacing:-0.060px;-webkit-text-stroke:0;">$1.1M</div>
<div class="t" style="left:514.65px;top:135.14px;font-family:'Liberation Sans', sans-serif;font-size:5.51px;line-height:5.51px;font-weight:400;color:#e4def0;transform:scaleX(0.9630);letter-spacing:-0.060px;-webkit-text-stroke:0;">$1.2M</div>
<div class="t" style="left:548.65px;top:126.04px;font-family:'Liberation Sans', sans-serif;font-size:5.51px;line-height:5.51px;font-weight:400;color:#b4b4c0;transform:scaleX(0.9630);letter-spacing:-0.060px;-webkit-text-stroke:0;">$1.3M</div>
<div class="t" style="left:582.65px;top:135.14px;font-family:'Liberation Sans', sans-serif;font-size:5.51px;line-height:5.51px;font-weight:400;color:#a4a4ae;transform:scaleX(0.9630);letter-spacing:-0.060px;-webkit-text-stroke:0;">$1.2M</div>
<div class="t" style="left:616.65px;top:126.04px;font-family:'Liberation Sans', sans-serif;font-size:5.51px;line-height:5.51px;font-weight:400;color:#e4def0;transform:scaleX(0.9630);letter-spacing:-0.060px;-webkit-text-stroke:0;">$1.3M</div>
<div class="t" style="left:650.65px;top:116.93px;font-family:'Liberation Sans', sans-serif;font-size:5.51px;line-height:5.51px;font-weight:400;color:#e4def0;transform:scaleX(0.9630);letter-spacing:-0.060px;-webkit-text-stroke:0;">$1.4M</div>
<div class="t" style="left:684.65px;top:116.93px;font-family:'Liberation Sans', sans-serif;font-size:5.51px;line-height:5.51px;font-weight:400;color:#e4def0;transform:scaleX(0.9630);letter-spacing:-0.060px;-webkit-text-stroke:0;">$1.4M</div>
<div class="t" style="left:156.10px;top:249.83px;font-family:'Liberation Sans', sans-serif;font-size:5.25px;line-height:5.25px;font-weight:400;color:#3a3a40;transform:scaleX(1.0610);-webkit-text-stroke:0;">$0</div>
<div class="t" style="left:148.30px;top:231.49px;font-family:'Liberation Sans', sans-serif;font-size:5.51px;line-height:5.51px;font-weight:400;color:#3a3a40;transform:scaleX(0.9130);letter-spacing:-0.143px;-webkit-text-stroke:0;">$200K</div>
<div class="t" style="left:148.30px;top:213.28px;font-family:'Liberation Sans', sans-serif;font-size:5.51px;line-height:5.51px;font-weight:400;color:#3a3a40;transform:scaleX(0.9130);letter-spacing:-0.143px;-webkit-text-stroke:0;">$400K</div>
<div class="t" style="left:148.30px;top:195.07px;font-family:'Liberation Sans', sans-serif;font-size:5.51px;line-height:5.51px;font-weight:400;color:#3a3a40;transform:scaleX(0.9130);letter-spacing:-0.143px;-webkit-text-stroke:0;">$600K</div>
<div class="t" style="left:148.30px;top:176.86px;font-family:'Liberation Sans', sans-serif;font-size:5.51px;line-height:5.51px;font-weight:400;color:#3a3a40;transform:scaleX(0.9130);letter-spacing:-0.143px;-webkit-text-stroke:0;">$800K</div>
<div class="t" style="left:153.00px;top:158.65px;font-family:'Liberation Sans', sans-serif;font-size:5.51px;line-height:5.51px;font-weight:400;color:#3a3a40;transform:scaleX(0.9045);letter-spacing:-0.210px;-webkit-text-stroke:0;">$1M</div>
<div class="t" style="left:148.60px;top:140.44px;font-family:'Liberation Sans', sans-serif;font-size:5.51px;line-height:5.51px;font-weight:400;color:#3a3a40;transform:scaleX(0.9246);letter-spacing:-0.120px;-webkit-text-stroke:0;">$1.2M</div>
<div class="t" style="left:148.60px;top:122.23px;font-family:'Liberation Sans', sans-serif;font-size:5.51px;line-height:5.51px;font-weight:400;color:#3a3a40;transform:scaleX(0.9246);letter-spacing:-0.120px;-webkit-text-stroke:0;">$1.4M</div>
<div class="t" style="left:148.60px;top:104.02px;font-family:'Liberation Sans', sans-serif;font-size:5.51px;line-height:5.51px;font-weight:400;color:#3a3a40;transform:scaleX(0.9246);letter-spacing:-0.120px;-webkit-text-stroke:0;">$1.6M</div>
<div class="t" style="left:148.60px;top:85.81px;font-family:'Liberation Sans', sans-serif;font-size:5.51px;line-height:5.51px;font-weight:400;color:#3a3a40;transform:scaleX(0.9246);letter-spacing:-0.120px;-webkit-text-stroke:0;">$1.8M</div>
<div class="t" style="left:153.00px;top:67.60px;font-family:'Liberation Sans', sans-serif;font-size:5.51px;line-height:5.51px;font-weight:400;color:#3a3a40;transform:scaleX(0.9045);letter-spacing:-0.210px;-webkit-text-stroke:0;">$2M</div>
<div class="t" style="left:172.05px;top:255.50px;font-family:'Liberation Sans', sans-serif;font-size:5.51px;line-height:5.51px;font-weight:400;color:#3a3a40;transform:scaleX(0.9087);letter-spacing:-0.122px;-webkit-text-stroke:0;">Jan 2024</div>
<div class="t" style="left:206.17px;top:255.50px;font-family:'Liberation Sans', sans-serif;font-size:5.51px;line-height:5.51px;font-weight:400;color:#3a3a40;transform:scaleX(0.8913);letter-spacing:-0.148px;-webkit-text-stroke:0;">Feb 2024</div>
<div class="t" style="left:239.72px;top:255.50px;font-family:'Liberation Sans', sans-serif;font-size:5.51px;line-height:5.51px;font-weight:400;color:#3a3a40;transform:scaleX(0.8913);letter-spacing:-0.148px;-webkit-text-stroke:0;">Mar 2024</div>
<div class="t" style="left:273.40px;top:255.50px;font-family:'Liberation Sans', sans-serif;font-size:5.51px;line-height:5.51px;font-weight:400;color:#3a3a40;transform:scaleX(0.9180);letter-spacing:-0.108px;-webkit-text-stroke:0;">Apr 2024</div>
<div class="t" style="left:307.12px;top:255.50px;font-family:'Liberation Sans', sans-serif;font-size:5.51px;line-height:5.51px;font-weight:400;color:#3a3a40;transform:scaleX(0.8665);letter-spacing:-0.187px;-webkit-text-stroke:0;">May 2024</div>
<div class="t" style="left:341.18px;top:255.50px;font-family:'Liberation Sans', sans-serif;font-size:5.51px;line-height:5.51px;font-weight:400;color:#3a3a40;transform:scaleX(0.9087);letter-spacing:-0.122px;-webkit-text-stroke:0;">Jun 2024</div>
<div class="t" style="left:375.40px;top:255.50px;font-family:'Liberation Sans', sans-serif;font-size:5.51px;line-height:5.51px;font-weight:400;color:#3a3a40;transform:scaleX(0.9660);letter-spacing:-0.043px;-webkit-text-stroke:0;">Jul 2024</div>
<div class="t" style="left:409.45px;top:255.50px;font-family:'Liberation Sans', sans-serif;font-size:5.51px;line-height:5.51px;font-weight:400;color:#3a3a40;transform:scaleX(0.8826);letter-spacing:-0.161px;-webkit-text-stroke:0;">Aug 2024</div>
<div class="t" style="left:443.65px;top:255.50px;font-family:'Liberation Sans', sans-serif;font-size:5.51px;line-height:5.51px;font-weight:400;color:#3a3a40;transform:scaleX(0.8826);letter-spacing:-0.161px;-webkit-text-stroke:0;">Sep 2024</div>
<div class="t" style="left:477.75px;top:255.50px;font-family:'Liberation Sans', sans-serif;font-size:5.51px;line-height:5.51px;font-weight:400;color:#3a3a40;transform:scaleX(0.9180);letter-spacing:-0.108px;-webkit-text-stroke:0;">Oct 2024</div>
<div class="t" style="left:511.90px;top:255.50px;font-family:'Liberation Sans', sans-serif;font-size:5.51px;line-height:5.51px;font-weight:400;color:#3a3a40;transform:scaleX(0.8830);letter-spacing:-0.161px;-webkit-text-stroke:0;">Nov 2024</div>
<div class="t" style="left:546.30px;top:255.50px;font-family:'Liberation Sans', sans-serif;font-size:5.51px;line-height:5.51px;font-weight:400;color:#3a3a40;transform:scaleX(0.8830);letter-spacing:-0.161px;-webkit-text-stroke:0;">Dec 2024</div>
<div class="t" style="left:580.45px;top:255.50px;font-family:'Liberation Sans', sans-serif;font-size:5.51px;line-height:5.51px;font-weight:400;color:#3a3a40;transform:scaleX(0.9087);letter-spacing:-0.122px;-webkit-text-stroke:0;">Jan 2025</div>
<div class="t" style="left:614.20px;top:255.50px;font-family:'Liberation Sans', sans-serif;font-size:5.51px;line-height:5.51px;font-weight:400;color:#3a3a40;transform:scaleX(0.8913);letter-spacing:-0.148px;-webkit-text-stroke:0;">Feb 2025</div>
<div class="t" style="left:647.50px;top:255.50px;font-family:'Liberation Sans', sans-serif;font-size:5.51px;line-height:5.51px;font-weight:400;color:#3a3a40;transform:scaleX(0.8913);letter-spacing:-0.148px;-webkit-text-stroke:0;">Mar 2025</div>
<div class="t" style="left:680.80px;top:255.50px;font-family:'Liberation Sans', sans-serif;font-size:5.51px;line-height:5.51px;font-weight:400;color:#3a3a40;transform:scaleX(0.9180);letter-spacing:-0.108px;-webkit-text-stroke:0;">Apr 2025</div>
<div class="t" style="left:407.90px;top:267.10px;font-family:'Liberation Sans', sans-serif;font-size:5.72px;line-height:5.72px;font-weight:400;color:#1e1e22;transform:scaleX(0.8951);letter-spacing:-0.148px;-webkit-text-stroke:0.32px currentColor;">Month of CLOSED_DATE</div>
<div class="t" style="left:176.90px;top:80.90px;font-family:'Liberation Sans', sans-serif;font-size:5.72px;line-height:5.72px;font-weight:400;color:#1e1e22;transform:scaleX(0.8744);letter-spacing:-0.209px;-webkit-text-stroke:0.32px currentColor;">ACCOUNT_SEGMENT_TYPE</div>
<div class="t" style="left:183.90px;top:90.40px;font-family:'Liberation Sans', sans-serif;font-size:5.51px;line-height:5.51px;font-weight:400;color:#46464e;transform:scaleX(0.9078);letter-spacing:-0.106px;">Enterprise</div>
<div class="t" style="left:183.90px;top:96.90px;font-family:'Liberation Sans', sans-serif;font-size:5.51px;line-height:5.51px;font-weight:400;color:#46464e;transform:scaleX(0.9152);letter-spacing:-0.107px;">Mid-Market</div>
<div class="t" style="left:183.90px;top:103.30px;font-family:'Liberation Sans', sans-serif;font-size:5.51px;line-height:5.51px;font-weight:400;color:#46464e;transform:scaleX(0.8956);letter-spacing:-0.147px;">Other</div>
<div class="t" style="left:183.90px;top:109.80px;font-family:'Liberation Sans', sans-serif;font-size:5.51px;line-height:5.51px;font-weight:400;color:#46464e;transform:scaleX(0.8148);letter-spacing:-0.438px;">SMB</div>
<div class="t" style="left:183.90px;top:116.75px;font-family:'Liberation Sans', sans-serif;font-size:5.51px;line-height:5.51px;font-weight:400;color:#46464e;transform:scaleX(0.8985);letter-spacing:-0.113px;">Strategic</div>
<div class="t" style="left:183.90px;top:126.00px;font-family:'Liberation Sans', sans-serif;font-size:5.51px;line-height:5.51px;font-weight:400;color:#46464e;transform:scaleX(0.8623);letter-spacing:-0.174px;">Target ARR</div>
<div class="t" style="left:144.30px;top:290.11px;font-family:'Liberation Sans', sans-serif;font-size:6.3px;line-height:6.3px;font-weight:400;color:#9c9ca4;transform:scaleX(0.9360);letter-spacing:-0.075px;">Add calculation...</div>
<div class="t" style="left:669.00px;top:289.81px;font-family:'Liberation Sans', sans-serif;font-size:6.3px;line-height:6.3px;font-weight:500;color:#222226;transform:scaleX(0.9064);letter-spacing:-0.149px;">Sum of ARR</div>
<div class="t" style="left:153.50px;top:306.21px;font-family:'Liberation Sans', sans-serif;font-size:6.3px;line-height:6.3px;font-weight:400;color:#7c7c86;transform:scaleX(0.8827);letter-spacing:-0.181px;">Month of CLOSED_DATE</div>
<div class="t" style="left:238.50px;top:306.21px;font-family:'Liberation Sans', sans-serif;font-size:6.3px;line-height:6.3px;font-weight:400;color:#7c7c86;transform:scaleX(0.8567);letter-spacing:-0.261px;">ACCOUNT_SEGMENT_TYPE</div>
<div class="t" style="left:332.40px;top:306.21px;font-family:'Liberation Sans', sans-serif;font-size:6.3px;line-height:6.3px;font-weight:400;color:#7c7c86;transform:scaleX(0.9020);letter-spacing:-0.155px;">Sum of ARR</div>
<div class="t" style="left:144.60px;top:319.91px;font-family:'Liberation Sans', sans-serif;font-size:6.3px;line-height:6.3px;font-weight:400;color:#26262a;transform:scaleX(0.9734);letter-spacing:-0.038px;">2024-01-01T00:00:00</div>
<div class="t" style="left:229.70px;top:319.91px;font-family:'Liberation Sans', sans-serif;font-size:6.3px;line-height:6.3px;font-weight:400;color:#26262a;transform:scaleX(0.9322);letter-spacing:-0.090px;">Enterprise</div>
<div class="t" style="left:353.60px;top:319.91px;font-family:'Liberation Sans', sans-serif;font-size:6.3px;line-height:6.3px;font-weight:400;color:#26262a;transform:scaleX(0.9474);letter-spacing:-0.088px;">$32.1K</div>
<div class="t" style="left:144.60px;top:333.11px;font-family:'Liberation Sans', sans-serif;font-size:6.3px;line-height:6.3px;font-weight:400;color:#26262a;transform:scaleX(0.9734);letter-spacing:-0.038px;">2024-01-01T00:00:00</div>
<div class="t" style="left:229.70px;top:333.11px;font-family:'Liberation Sans', sans-serif;font-size:6.3px;line-height:6.3px;font-weight:400;color:#26262a;transform:scaleX(0.9314);letter-spacing:-0.100px;">Mid-Market</div>
<div class="t" style="left:356.30px;top:333.11px;font-family:'Liberation Sans', sans-serif;font-size:6.3px;line-height:6.3px;font-weight:400;color:#26262a;transform:scaleX(0.9032);letter-spacing:-0.181px;">$220K</div>
<div class="t" style="left:144.60px;top:346.31px;font-family:'Liberation Sans', sans-serif;font-size:6.3px;line-height:6.3px;font-weight:400;color:#26262a;transform:scaleX(0.9734);letter-spacing:-0.038px;">2024-01-01T00:00:00</div>
<div class="t" style="left:229.70px;top:346.31px;font-family:'Liberation Sans', sans-serif;font-size:6.3px;line-height:6.3px;font-weight:400;color:#26262a;transform:scaleX(0.9195);letter-spacing:-0.131px;">Other</div>
<div class="t" style="left:353.60px;top:346.31px;font-family:'Liberation Sans', sans-serif;font-size:6.3px;line-height:6.3px;font-weight:400;color:#26262a;transform:scaleX(0.9474);letter-spacing:-0.088px;">$3.58K</div>
<div class="t" style="left:144.60px;top:359.51px;font-family:'Liberation Sans', sans-serif;font-size:6.3px;line-height:6.3px;font-weight:400;color:#26262a;transform:scaleX(0.9734);letter-spacing:-0.038px;">2024-01-01T00:00:00</div>
<div class="t" style="left:229.70px;top:359.51px;font-family:'Liberation Sans', sans-serif;font-size:6.3px;line-height:6.3px;font-weight:400;color:#26262a;transform:scaleX(0.8840);letter-spacing:-0.323px;">SMB</div>
<div class="t" style="left:356.30px;top:359.51px;font-family:'Liberation Sans', sans-serif;font-size:6.3px;line-height:6.3px;font-weight:400;color:#26262a;transform:scaleX(0.9032);letter-spacing:-0.181px;">$129K</div>
<div class="t" style="left:144.60px;top:372.71px;font-family:'Liberation Sans', sans-serif;font-size:6.3px;line-height:6.3px;font-weight:400;color:#26262a;transform:scaleX(0.9734);letter-spacing:-0.038px;">2024-01-01T00:00:00</div>
<div class="t" style="left:229.70px;top:372.71px;font-family:'Liberation Sans', sans-serif;font-size:6.3px;line-height:6.3px;font-weight:400;color:#26262a;transform:scaleX(0.9316);letter-spacing:-0.088px;">Strategic</div>
<div class="t" style="left:353.60px;top:372.71px;font-family:'Liberation Sans', sans-serif;font-size:6.3px;line-height:6.3px;font-weight:400;color:#26262a;transform:scaleX(0.9474);letter-spacing:-0.088px;">$80.1K</div>
<div class="t" style="left:144.60px;top:385.91px;font-family:'Liberation Sans', sans-serif;font-size:6.3px;line-height:6.3px;font-weight:400;color:#26262a;transform:scaleX(0.9734);letter-spacing:-0.038px;">2024-02-01T00:00:00</div>
<div class="t" style="left:229.70px;top:385.91px;font-family:'Liberation Sans', sans-serif;font-size:6.3px;line-height:6.3px;font-weight:400;color:#26262a;transform:scaleX(0.9322);letter-spacing:-0.090px;">Enterprise</div>
<div class="t" style="left:353.60px;top:385.91px;font-family:'Liberation Sans', sans-serif;font-size:6.3px;line-height:6.3px;font-weight:400;color:#26262a;transform:scaleX(0.9474);letter-spacing:-0.088px;">$26.9K</div>
<div class="t" style="left:144.60px;top:399.11px;font-family:'Liberation Sans', sans-serif;font-size:6.3px;line-height:6.3px;font-weight:400;color:#26262a;transform:scaleX(0.9734);letter-spacing:-0.038px;">2024-02-01T00:00:00</div>
<div class="t" style="left:229.70px;top:399.11px;font-family:'Liberation Sans', sans-serif;font-size:6.3px;line-height:6.3px;font-weight:400;color:#26262a;transform:scaleX(0.9314);letter-spacing:-0.100px;">Mid-Market</div>
<div class="t" style="left:356.30px;top:399.11px;font-family:'Liberation Sans', sans-serif;font-size:6.3px;line-height:6.3px;font-weight:400;color:#26262a;transform:scaleX(0.9032);letter-spacing:-0.181px;">$138K</div>
<div class="t" style="left:144.60px;top:412.31px;font-family:'Liberation Sans', sans-serif;font-size:6.3px;line-height:6.3px;font-weight:400;color:#26262a;transform:scaleX(0.9734);letter-spacing:-0.038px;">2024-02-01T00:00:00</div>
<div class="t" style="left:229.70px;top:412.31px;font-family:'Liberation Sans', sans-serif;font-size:6.3px;line-height:6.3px;font-weight:400;color:#26262a;transform:scaleX(0.9195);letter-spacing:-0.131px;">Other</div>
<div class="t" style="left:353.60px;top:412.31px;font-family:'Liberation Sans', sans-serif;font-size:6.3px;line-height:6.3px;font-weight:400;color:#26262a;transform:scaleX(0.9474);letter-spacing:-0.088px;">$45.9K</div>
<div class="t" style="left:138.60px;top:422.86px;font-family:'Liberation Sans', sans-serif;font-size:6.0px;line-height:6.0px;font-weight:400;color:#5c5c64;transform:scaleX(0.8374);">1</div>
<div class="t" style="left:146.00px;top:422.86px;font-family:'Liberation Sans', sans-serif;font-size:6.0px;line-height:6.0px;font-weight:400;color:#7c7c84;transform:scaleX(0.8673);">2</div>
<div class="t" style="left:162.20px;top:422.71px;font-family:'Liberation Sans', sans-serif;font-size:6.3px;line-height:6.3px;font-weight:400;color:#9494a4;transform:scaleX(0.8949);letter-spacing:-0.195px;">View</div>
<div class="t" style="left:180.10px;top:422.71px;font-family:'Liberation Sans', sans-serif;font-size:6.3px;line-height:6.3px;font-weight:400;color:#9494a4;transform:scaleX(0.9331);letter-spacing:-0.111px;">Format</div>
<div class="t" style="left:682.60px;top:423.11px;font-family:'Liberation Sans', sans-serif;font-size:6.3px;line-height:6.3px;font-weight:400;color:#8c8c94;transform:scaleX(0.9394);letter-spacing:-0.093px;">72 rows</div>
</body></html>
